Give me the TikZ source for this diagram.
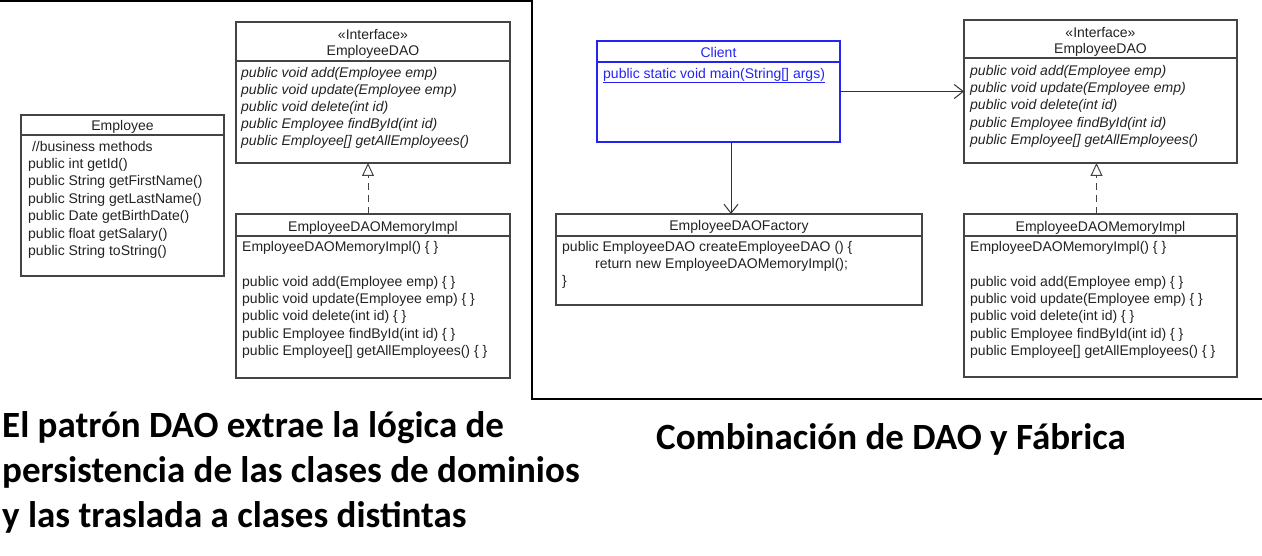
\documentclass[tikz,border=0pt]{standalone}
\usepackage{fontspec}
\setmainfont{Liberation Sans}
\newfontfamily\capfont{Carlito}
\usetikzlibrary{arrows.meta}
\definecolor{umlline}{HTML}{444444}
\definecolor{umltext}{HTML}{222222}
\definecolor{clientblue}{HTML}{2424F2}
\newcommand\firstln{\rule{0pt}{11pt}}
\begin{document}
\begin{tikzpicture}[x=1pt,y=-1pt,
  umlbox/.style={draw=umlline, line width=1.2pt, anchor=north west, inner sep=0pt, outer sep=0pt},
  umltxt/.style={anchor=north west, inner sep=0pt, align=left, text=umltext, font=\fontsize{14}{17.4}\selectfont},
  umltitle/.style={anchor=base, inner sep=0pt, text=umltext, font=\fontsize{14}{17}\selectfont},
  hdr/.style={draw=umlline, line width=1.2pt},
  realize/.style={draw=umlline, line width=1pt, dash pattern=on 7pt off 5pt, -{Triangle[open,length=13pt,width=12pt,fill=white]}},
  assoc/.style={draw=black!80, line width=1pt, -{Straight Barb[length=9pt,width=14pt]}},
  frame/.style={draw=black, line width=2pt},
  caption/.style={anchor=base west, inner sep=0pt, font=\capfont\bfseries\fontsize{37}{45}\selectfont}
]
\useasboundingbox (0,0) rectangle (1262,556);

% ---------- frame lines ----------
\coordinate (f1) at (0,1);
\coordinate (f2) at (532,1);
\coordinate (f3) at (532,399);
\coordinate (f4) at (1262,399);
\draw[frame] (f1) -- (f2) -- (f3) -- (f4);

% ---------- left panel ----------
% EmployeeDAO interface
\node[umlbox, minimum width=274pt, minimum height=141pt] (daoA) at (236,22) {};
\node[umltitle] (daoAs) at ([yshift=-18pt]daoA.north) {«Interface»};
\node[umltitle] (daoAn) at ([yshift=-34pt]daoA.north) {EmployeeDAO};
\draw[hdr] ([yshift=-39pt]daoA.north west) -- ([yshift=-39pt]daoA.north east);
\node[umltxt, font=\itshape\fontsize{14}{17.2}\selectfont] (daoAm) at ([xshift=5pt,yshift=-44pt]daoA.north west)
  {\firstln public void add(Employee emp)\\public void update(Employee emp)\\public void delete(int id)\\public Employee findById(int id)\\public Employee[] getAllEmployees()};

% Employee
\node[umlbox, minimum width=203pt, minimum height=161pt] (emp) at (21,115) {};
\node[umltitle] (empn) at ([yshift=-16pt]emp.north) {Employee};
\draw[hdr] ([yshift=-20pt]emp.north west) -- ([yshift=-20pt]emp.north east);
\node[umltxt, font=\fontsize{14}{17.4}\selectfont] (empm) at ([xshift=7pt,yshift=-25pt]emp.north west)
  {\firstln\ //business methods\\public int getId()\\public String getFirstName()\\public String getLastName()\\public Date getBirthDate()\\public float getSalary()\\public String toString()};

% EmployeeDAOMemoryImpl
\node[umlbox, minimum width=274pt, minimum height=164pt] (implA) at (236,214) {};
\node[umltitle] (implAn) at ([yshift=-18pt]implA.north) {EmployeeDAOMemoryImpl};
\draw[hdr] ([yshift=-22pt]implA.north west) -- ([yshift=-22pt]implA.north east);
\node[umltxt] (implAm) at ([xshift=6pt,yshift=-26pt]implA.north west)
  {\firstln EmployeeDAOMemoryImpl() \{ \}\\[17.4pt]public void add(Employee emp) \{ \}\\public void update(Employee emp) \{ \}\\public void delete(int id) \{ \}\\public Employee findById(int id) \{ \}\\public Employee[] getAllEmployees() \{ \}};

\draw[realize] ([xshift=-5pt]implA.north) -- ([xshift=-5pt]daoA.south);

% ---------- right panel ----------
% Client
\node[umlbox, draw=clientblue, minimum width=243pt, minimum height=101pt] (client) at (597,41) {};
\node[umltitle, text=clientblue] (clientn) at ([yshift=-17pt]client.north) {Client};
\draw[hdr, draw=clientblue] ([yshift=-21pt]client.north west) -- ([yshift=-21pt]client.north east);
\node[umltxt, text=clientblue] (clientm) at ([xshift=6pt,yshift=-26pt]client.north west)
  {\firstln\underline{public static void main(String[] args)}};

% EmployeeDAO interface (right)
\node[umlbox, minimum width=273pt, minimum height=143pt] (daoB) at (964,20) {};
\node[umltitle] (daoBs) at ([yshift=-18pt]daoB.north) {«Interface»};
\node[umltitle] (daoBn) at ([yshift=-34pt]daoB.north) {EmployeeDAO};
\draw[hdr] ([yshift=-38pt]daoB.north west) -- ([yshift=-38pt]daoB.north east);
\node[umltxt, font=\itshape\fontsize{14}{17.4}\selectfont] (daoBm) at ([xshift=6pt,yshift=-44pt]daoB.north west)
  {\firstln public void add(Employee emp)\\public void update(Employee emp)\\public void delete(int id)\\public Employee findById(int id)\\public Employee[] getAllEmployees()};

% EmployeeDAOFactory
\node[umlbox, minimum width=366pt, minimum height=91pt] (fac) at (556,214) {};
\node[umltitle] (facn) at ([yshift=-17pt]fac.north) {EmployeeDAOFactory};
\draw[hdr] ([yshift=-22pt]fac.north west) -- ([yshift=-22pt]fac.north east);
\node[umltxt] (facm) at ([xshift=6pt,yshift=-26pt]fac.north west)
  {\firstln public EmployeeDAO createEmployeeDAO () \{\\\hspace*{33pt}return new EmployeeDAOMemoryImpl();\\\}};

% EmployeeDAOMemoryImpl (right)
\node[umlbox, minimum width=273pt, minimum height=163pt] (implB) at (964,214) {};
\node[umltitle] (implBn) at ([yshift=-18pt]implB.north) {EmployeeDAOMemoryImpl};
\draw[hdr] ([yshift=-22pt]implB.north west) -- ([yshift=-22pt]implB.north east);
\node[umltxt] (implBm) at ([xshift=6pt,yshift=-26pt]implB.north west)
  {\firstln EmployeeDAOMemoryImpl() \{ \}\\[17.4pt]public void add(Employee emp) \{ \}\\public void update(Employee emp) \{ \}\\public void delete(int id) \{ \}\\public Employee findById(int id) \{ \}\\public Employee[] getAllEmployees() \{ \}};

% connectors
\draw[realize] ([xshift=-4pt]implB.north) -- ([xshift=-4pt]daoB.south);
\draw[assoc] (client.east) -- (client.east -| daoB.west);
\coordinate (cf) at ([xshift=12.5pt]client.south);
\draw[assoc] (cf) -- (cf |- fac.north);

% ---------- captions ----------
\node[caption] (capA1) at (2,437) {El patrón DAO extrae la lógica de};
\node[caption] (capA2) at (2,482) {persistencia de las clases de dominios};
\node[caption] (capA3) at (2,527) {y las traslada a clases distintas};
\node[caption] (capB) at (656,449) {Combinación de DAO y Fábrica};
\end{tikzpicture}
\end{document}
